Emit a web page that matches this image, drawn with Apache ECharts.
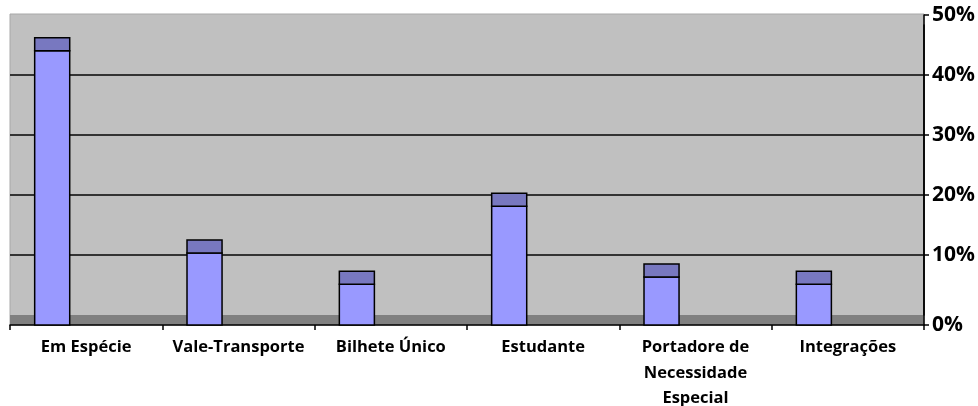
<!DOCTYPE html>
<html>
<head>
<meta charset="utf-8">
<script src="https://cdn.jsdelivr.net/npm/echarts@6/dist/echarts.min.js"></script>
<style>html,body{margin:0;padding:0;background:#fff;}#c{width:978px;height:406px;}</style>
</head>
<body>
<div id="c"></div>
<script>
const categories = ['Em Espécie', 'Vale-Transporte', 'Bilhete Único', 'Estudante', 'Portadore de\nNecessidade\nEspecial', 'Integrações'];
const values = [45.7, 12, 6.8, 19.8, 8, 6.8];
const yTicks = [0, 10, 20, 30, 40, 50];

const chart = echarts.init(document.getElementById('c'));
const fontFamily = '"Open Sans", "Noto Sans", sans-serif';
const L = 10, R = 54;
const gb = {left: L, right: R, containLabel: false, outerBoundsMode: 'none'};

const option = {
  animation: false,
  backgroundColor: '#fff',
  grid: [
    Object.assign({top: 14, bottom: 81, show: true, backgroundColor: '#c0c0c0', borderColor: '#a8a8a8', borderWidth: 1, z: -2}, gb),
    Object.assign({top: 315, bottom: 81, show: true, backgroundColor: '#808080', borderWidth: 0, z: -1}, gb),
    Object.assign({top: 15, bottom: 91}, gb),
    Object.assign({top: 25, bottom: 81}, gb)
  ],
  xAxis: [
    {gridIndex: 0, type: 'value', show: false},
    {gridIndex: 1, type: 'value', show: false},
    {gridIndex: 2, type: 'category', data: categories, show: false},
    {
      gridIndex: 3, type: 'category', data: categories,
      axisLine: {lineStyle: {color: '#000', width: 1.5}},
      axisTick: {show: true, length: 5, lineStyle: {color: '#000', width: 1.5}},
      axisLabel: {color: '#000', fontFamily, fontWeight: 'bold', fontSize: 16.5, lineHeight: 25.5, margin: 10, interval: 0}
    }
  ],
  yAxis: [
    {gridIndex: 0, type: 'value', show: false},
    {gridIndex: 1, type: 'value', show: false},
    {
      gridIndex: 2, type: 'value', position: 'right', min: yTicks[0], max: yTicks[yTicks.length - 1], interval: 10,
      axisLine: {show: true, lineStyle: {color: '#000', width: 1.5}},
      axisTick: {show: true, length: 5, lineStyle: {color: '#000', width: 1.5}},
      splitLine: {show: true, showMinLine: false, showMaxLine: false, lineStyle: {color: '#333', width: 2}},
      axisLabel: {color: '#000', fontFamily, fontWeight: 'bold', fontSize: 21, margin: 8, showMinLabel: false,
        formatter: v => v + '%'}
    },
    {
      gridIndex: 3, type: 'value', position: 'right', min: yTicks[0], max: yTicks[yTicks.length - 1],
      axisLine: {show: true, lineStyle: {color: '#000', width: 1.5}},
      axisTick: {show: true, length: 5, customValues: [0], lineStyle: {color: '#000', width: 1.5}},
      splitLine: {show: false},
      axisLabel: {color: '#000', fontFamily, fontWeight: 'bold', fontSize: 21, margin: 8, customValues: [0],
        formatter: v => v + '%'}
    }
  ],
  series: [{
    type: 'custom',
    xAxisIndex: 3, yAxisIndex: 3,
    data: categories.map((c, i) => [i, values[i]]),
    encode: {x: 0, y: 1},
    renderItem: function (params, api) {
      const i = api.value(0), v = api.value(1);
      const base = api.coord([i, 0]);
      const top = api.coord([i, v]);
      const bw = api.size([1, 0])[0];
      const x = base[0] - bw * 0.338;
      const w = bw * 0.23;
      const depth = 13;
      return {
        type: 'group',
        children: [
          {type: 'rect', shape: {x: x, y: top[1], width: w, height: base[1] - top[1]},
            style: {fill: '#9999ff', stroke: '#000', lineWidth: 1.5}},
          {type: 'rect', shape: {x: x, y: top[1] - depth, width: w, height: depth},
            style: {fill: '#7878c0', stroke: '#000', lineWidth: 1.5}}
        ]
      };
    }
  }]
};
chart.setOption(option);
</script>
</body>
</html>
